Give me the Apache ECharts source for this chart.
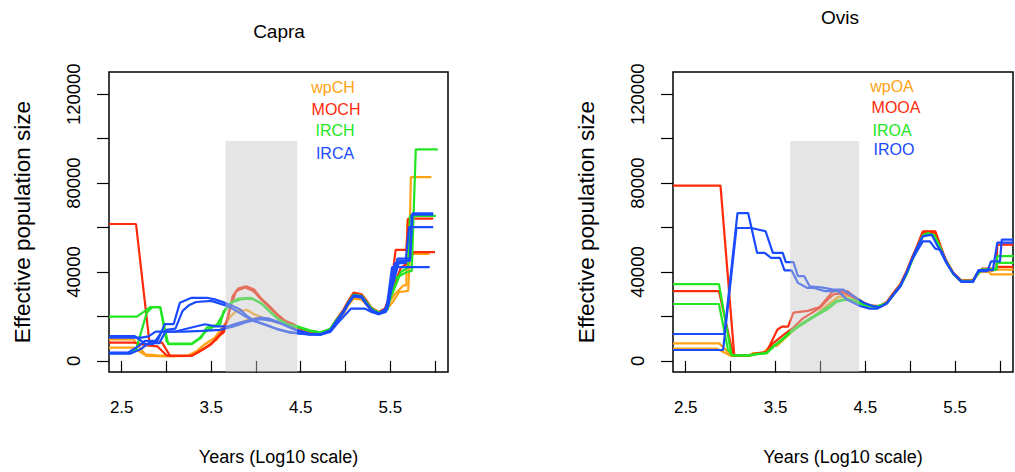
<!DOCTYPE html>
<html>
<head>
<meta charset="utf-8">
<script src="https://cdn.jsdelivr.net/npm/echarts@6/dist/echarts.min.js"></script>
<style>
html,body{margin:0;padding:0;background:#fff;}
#chart{width:1015px;height:472px;}
</style>
</head>
<body>
<div id="chart"></div>
<script>
// ---------- tick values ----------
const xTicks = [2.5, 3.0, 3.5, 4.0, 4.5, 5.0, 5.5, 6.0];
const xTickLabels = [2.5, 3.5, 4.5, 5.5];
const yTicks = [0, 20000, 40000, 60000, 80000, 100000, 120000];
const yTickLabels = [0, 40000, 80000, 120000];

// ---------- shaded period [x0, x1, y0, y1] ----------
const capraShade = [3.66, 4.46, -5000, 99000];
const ovisShade = [3.663, 4.432, -5000, 99000];

// ---------- Capra ----------
const capraOrangeA = [[2.358,9700],[2.63,9700],[2.76,3000],[2.9,2500],[3.1,2300],[3.24,2400],[3.34,4500],[3.43,7500],[3.54,10500],[3.65,16500],[3.72,20200],[3.78,22400],[3.9,22900],[3.98,21000],[4.12,18700],[4.3,16500],[4.47,15100],[4.6,13500],[4.72,12700],[4.83,14000],[4.9,18000],[4.98,22000],[5.03,25500],[5.09,28500],[5.18,28000],[5.24,25500],[5.29,23000],[5.37,21500],[5.44,23000],[5.5,27000],[5.55,30000],[5.65,34000],[5.68,34000],[5.69,63500],[5.72,63500],[5.73,82700],[5.96,82700]];
const capraOrangeB = [[2.358,6000],[2.63,6000],[2.78,2200],[3.0,2000],[3.26,2200],[3.36,4000],[3.45,6500],[3.56,9500],[3.66,15000],[3.78,16500],[3.92,18700],[4.05,19500],[4.2,18000],[4.35,16000],[4.47,14600],[4.6,13000],[4.72,12200],[4.83,13500],[4.9,17500],[4.98,21500],[5.03,25000],[5.09,28000],[5.18,27500],[5.24,25000],[5.29,22500],[5.37,21500],[5.44,22500],[5.52,26000],[5.6,31000],[5.7,31500],[5.72,48150],[5.94,48150]];
const capraRedA = [[2.358,61600],[2.66,61600],[2.81,8250],[2.95,8250],[3.04,2240],[3.28,2240],[3.38,4500],[3.48,7000],[3.58,11000],[3.64,12800],[3.69,20200],[3.74,29100],[3.8,32500],[3.89,33600],[3.98,32100],[4.05,28400],[4.15,24700],[4.24,20900],[4.33,17900],[4.42,16500],[4.5,14500],[4.6,13500],[4.72,12700],[4.83,14200],[4.9,18700],[4.98,23200],[5.03,26900],[5.09,30700],[5.18,30000],[5.24,26900],[5.29,23900],[5.37,22000],[5.44,23500],[5.5,30000],[5.56,50000],[5.68,50000],[5.7,64000],[5.98,64000]];
const capraRedB = [[2.358,8250],[2.64,8250],[2.78,7000],[2.9,6500],[3.0,2500],[3.05,2240],[3.28,2240],[3.4,5000],[3.5,7500],[3.6,12000],[3.66,16000],[3.72,25000],[3.78,31500],[3.88,33000],[3.97,31500],[4.05,28000],[4.15,24000],[4.24,20500],[4.33,17500],[4.45,15500],[4.6,13300],[4.72,12500],[4.83,14000],[4.9,18500],[4.98,23000],[5.03,26500],[5.09,30200],[5.18,29500],[5.24,26500],[5.29,23500],[5.37,21800],[5.44,23000],[5.52,32000],[5.62,42000],[5.7,44000],[5.76,48900],[6.0,48900]];
const capraGreenA = [[2.358,19900],[2.67,19900],[2.82,24200],[2.93,24200],[3.02,7500],[3.28,7500],[3.39,10500],[3.45,15000],[3.6,16500],[3.64,22400],[3.72,26200],[3.8,28000],[3.94,28400],[4.05,26200],[4.15,22400],[4.25,18700],[4.35,16500],[4.45,15700],[4.6,13800],[4.72,12800],[4.83,14500],[4.9,18500],[4.98,22500],[5.03,26000],[5.09,29500],[5.18,29000],[5.24,26000],[5.29,23500],[5.37,21500],[5.47,23000],[5.55,37000],[5.68,39900],[5.74,40500],[5.785,95200],[6.03,95200]];
const capraGreenB = [[2.358,3500],[2.6,3500],[2.66,5000],[2.78,21700],[2.84,24200],[2.93,24200],[3.0,9000],[3.02,7800],[3.28,7800],[3.36,10000],[3.46,14000],[3.56,16000],[3.66,23000],[3.74,26500],[3.84,27800],[3.96,28000],[4.06,25800],[4.16,22000],[4.26,18500],[4.36,16300],[4.47,15200],[4.6,13500],[4.72,12600],[4.83,14300],[4.9,18300],[4.98,22300],[5.03,26200],[5.09,29800],[5.18,29300],[5.24,26200],[5.29,23600],[5.37,21800],[5.45,22800],[5.52,30000],[5.62,40000],[5.7,42000],[5.72,65300],[6.01,65300]];
const capraBlueA = [[2.358,3700],[2.57,3700],[2.7,7000],[2.76,9000],[2.9,9000],[2.98,16500],[3.08,16500],[3.15,26200],[3.28,28400],[3.45,28400],[3.54,27700],[3.63,26500],[3.72,25000],[3.82,23200],[3.9,20200],[3.98,17900],[4.1,16500],[4.24,14200],[4.38,12700],[4.5,12300],[4.6,12000],[4.72,12000],[4.83,13800],[4.9,18000],[4.98,22500],[5.03,26000],[5.09,29500],[5.18,29000],[5.24,25500],[5.29,23000],[5.37,21300],[5.44,22500],[5.5,30000],[5.58,46000],[5.72,46000],[5.75,66400],[5.98,66400]];
const capraBlueB = [[2.358,3300],[2.6,3300],[2.72,5500],[2.8,8000],[2.92,8000],[3.0,14000],[3.1,14500],[3.18,22500],[3.25,25000],[3.33,26500],[3.5,27000],[3.58,26000],[3.66,25000],[3.76,23000],[3.86,20500],[3.95,18500],[4.05,17000],[4.2,14800],[4.35,13200],[4.5,12300],[4.6,11800],[4.72,11800],[4.83,13500],[4.9,17500],[4.98,22000],[5.03,25500],[5.09,29000],[5.18,28500],[5.24,25000],[5.29,22800],[5.37,21000],[5.45,22000],[5.48,25000],[5.55,44000],[5.67,44000],[5.71,60200],[5.98,60200]];
const capraBlueC = [[2.358,11200],[2.64,11200],[2.77,7500],[2.85,7500],[2.95,13200],[3.1,13200],[3.28,15000],[3.43,16500],[3.55,15500],[3.68,15500],[3.8,17000],[3.95,18500],[4.05,19500],[4.15,19000],[4.25,17500],[4.35,15500],[4.47,13500],[4.6,12000],[4.72,11800],[4.83,13000],[4.9,16500],[4.98,20000],[5.06,23500],[5.22,23500],[5.29,22000],[5.37,21000],[5.46,24000],[5.52,42150],[5.94,42150]];
const capraBlueD = [[2.358,10500],[2.72,10500],[2.8,11000],[2.88,13200],[3.2,13200],[3.4,13500],[3.6,14000],[3.75,15500],[3.9,17500],[4.05,18800],[4.18,18000],[4.3,16500],[4.45,14000],[4.6,12300],[4.72,12000],[4.83,13600],[4.9,17800],[4.98,22300],[5.03,25800],[5.09,29300],[5.18,28800],[5.24,25300],[5.29,22900],[5.37,21200],[5.44,22400],[5.5,30000],[5.6,45000],[5.72,45000],[5.74,65800],[5.98,65800]];

// ---------- Ovis ----------
const ovisRedA = [[2.358,78900],[2.887,78900],[3.04,2560],[3.21,2600],[3.3,3500],[3.4,4000],[3.46,9000],[3.52,14000],[3.57,15400],[3.64,15400],[3.7,21700],[3.86,22500],[3.99,24200],[4.07,28000],[4.14,31400],[4.3,31400],[4.37,29100],[4.44,27000],[4.55,25000],[4.66,24700],[4.74,26500],[4.81,30500],[4.89,34500],[4.96,40500],[5.02,46500],[5.07,51000],[5.14,58300],[5.28,58300],[5.33,52500],[5.39,46000],[5.48,39500],[5.57,36000],[5.7,36000],[5.74,39000],[5.8,41500],[5.96,41500],[5.97,52300],[6.15,52300]];
const ovisRedB = [[2.358,31400],[2.87,31400],[3.03,2400],[3.2,2300],[3.3,3200],[3.4,3800],[3.46,7500],[3.52,9500],[3.6,12000],[3.7,15000],[3.8,19000],[3.9,21500],[4.0,24000],[4.08,27500],[4.15,30000],[4.28,30500],[4.37,28500],[4.45,26500],[4.55,24700],[4.66,24700],[4.74,26300],[4.81,30000],[4.89,34000],[4.96,40000],[5.02,46000],[5.07,50500],[5.14,57800],[5.28,57800],[5.33,52000],[5.39,45800],[5.48,39500],[5.57,36200],[5.7,36200],[5.74,39000],[5.8,41000],[5.96,41000],[5.97,42300],[6.15,42300]];
const ovisGreenA = [[2.358,34500],[2.87,34500],[3.01,2600],[3.2,2500],[3.3,3200],[3.4,3500],[3.48,6700],[3.56,9000],[3.66,12500],[3.76,15500],[3.86,18000],[3.96,20500],[4.07,23000],[4.18,26500],[4.28,27500],[4.4,26500],[4.5,24800],[4.62,24200],[4.74,25800],[4.81,29500],[4.89,33500],[4.96,39000],[5.02,45000],[5.07,49500],[5.14,56000],[5.2,57000],[5.27,56000],[5.33,51000],[5.39,45500],[5.48,39000],[5.57,35800],[5.7,35800],[5.74,38500],[5.8,41000],[5.96,41000],[5.97,47100],[6.15,47100]];
const ovisGreenB = [[2.358,25600],[2.87,25600],[2.97,5000],[3.02,2500],[3.2,2400],[3.3,3000],[3.4,3500],[3.48,6500],[3.56,9200],[3.66,13000],[3.76,16000],[3.86,18500],[3.96,21000],[4.07,24000],[4.18,27000],[4.3,28000],[4.4,27000],[4.5,25200],[4.62,24500],[4.74,26000],[4.81,29800],[4.89,33800],[4.96,39500],[5.02,45500],[5.07,50000],[5.14,56500],[5.2,57500],[5.27,56500],[5.33,51500],[5.39,45500],[5.48,39200],[5.57,36000],[5.7,36000],[5.74,38800],[5.8,41200],[5.96,41200],[5.97,44100],[6.15,44100]];
const ovisOrangeA = [[2.358,7900],[2.87,7900],[3.01,2400],[3.21,2300],[3.25,3450],[3.36,3450],[3.44,6700],[3.51,6700],[3.58,9700],[3.7,14200],[3.81,17200],[3.96,20900],[4.07,24700],[4.18,28400],[4.25,29100],[4.33,29100],[4.42,27700],[4.55,24700],[4.66,24500],[4.74,26200],[4.81,29900],[4.89,33600],[4.96,39600],[5.02,45600],[5.07,50100],[5.14,57600],[5.28,57600],[5.33,51600],[5.39,45600],[5.48,39600],[5.57,35800],[5.7,35800],[5.74,38900],[5.8,40500],[5.92,40500],[5.95,41100],[6.15,41100]];
const ovisOrangeB = [[2.358,5500],[2.85,5500],[3.0,2300],[3.2,2300],[3.26,3300],[3.38,3500],[3.45,6500],[3.52,7000],[3.6,10000],[3.72,14500],[3.84,17800],[3.98,21500],[4.08,25200],[4.2,28800],[4.3,29500],[4.4,28500],[4.5,25800],[4.6,24200],[4.7,24800],[4.78,28000],[4.86,32500],[4.93,37000],[5.0,43500],[5.05,48500],[5.12,55500],[5.17,58300],[5.27,58300],[5.32,53500],[5.38,47000],[5.46,40500],[5.54,36500],[5.66,35500],[5.72,37500],[5.78,40000],[5.88,40000],[5.9,38900],[6.15,38900]];
const ovisBlueA = [[2.358,12100],[2.93,12100],[3.076,66500],[3.195,66500],[3.295,48600],[3.38,48600],[3.45,46400],[3.55,46400],[3.6,40700],[3.68,40700],[3.75,35100],[3.85,32900],[3.92,32900],[4.05,31400],[4.2,31400],[4.29,27700],[4.44,24700],[4.55,23500],[4.63,23500],[4.74,25800],[4.81,29500],[4.89,33500],[4.96,39500],[5.02,45500],[5.07,49000],[5.14,53800],[5.22,53800],[5.28,50500],[5.33,50000],[5.39,45000],[5.48,39200],[5.57,35500],[5.7,35500],[5.76,40400],[5.86,40400],[5.9,44800],[6.0,44800],[6.02,54600],[6.15,54600]];
const ovisBlueB = [[2.358,4900],[2.916,4900],[3.065,59800],[3.23,59800],[3.39,58300],[3.47,48600],[3.58,48600],[3.615,44400],[3.7,44400],[3.75,38100],[3.82,38100],[3.88,33600],[4.03,33000],[4.14,32100],[4.25,32100],[4.37,29100],[4.48,26200],[4.58,24700],[4.66,24200],[4.74,26000],[4.81,29800],[4.89,33800],[4.96,39800],[5.02,45800],[5.07,50500],[5.14,56000],[5.24,56800],[5.3,52000],[5.36,48500],[5.42,43000],[5.48,39500],[5.57,35800],[5.7,35800],[5.76,40800],[5.92,40800],[5.97,53200],[6.15,53200]];

// ---------- labels ----------
const capraLegend = ['wpCH', 'MOCH', 'IRCH', 'IRCA'];
const ovisLegend = ['wpOA', 'MOOA', 'IROA', 'IROO'];
const panelTitles = ['Capra', 'Ovis'];

const COL = {orange: '#FFA214', red: '#FF2A0A', green: '#22E622', blue: '#1A4BFF'};
const FONT = '"Liberation Sans", Arial, Helvetica, sans-serif';

const capraLines = [
  ['wpCH', COL.orange, capraOrangeA], ['wpCH', COL.orange, capraOrangeB],
  ['MOCH', COL.red, capraRedA], ['MOCH', COL.red, capraRedB],
  ['IRCH', COL.green, capraGreenA], ['IRCH', COL.green, capraGreenB],
  ['IRCA', COL.blue, capraBlueA], ['IRCA', COL.blue, capraBlueB],
  ['IRCA', COL.blue, capraBlueC], ['IRCA', COL.blue, capraBlueD]
];
const ovisLines = [
  ['wpOA', COL.orange, ovisOrangeA], ['wpOA', COL.orange, ovisOrangeB],
  ['MOOA', COL.red, ovisRedA], ['MOOA', COL.red, ovisRedB],
  ['IROA', COL.green, ovisGreenA], ['IROA', COL.green, ovisGreenB],
  ['IROO', COL.blue, ovisBlueA], ['IROO', COL.blue, ovisBlueB]
];

const chart = echarts.init(document.getElementById('chart'), null, {renderer: 'svg'});

function xAxisOpt(idx) {
  return {
    type: 'value', gridIndex: idx, min: 2.358, max: 6.145,
    name: 'Years (Log10 scale)', nameLocation: 'middle', nameGap: 76,
    nameTextStyle: {fontFamily: FONT, fontSize: 18, color: '#000'},
    axisLine: {show: false},
    axisTick: {show: true, inside: false, length: 12, customValues: xTicks, lineStyle: {color: '#000', width: 1.2}},
    axisLabel: {show: true, customValues: xTickLabels, margin: 27, fontFamily: FONT, fontSize: 17, color: '#000',
      formatter: v => v.toFixed(1)},
    splitLine: {show: false}
  };
}
function yAxisOpt(idx) {
  return {
    type: 'value', gridIndex: idx, min: -5000, max: 130000,
    name: 'Effective population size', nameLocation: 'middle', nameGap: 75, nameRotate: 90,
    nameTextStyle: {fontFamily: FONT, fontSize: 22.5, color: '#000'},
    axisLine: {show: false},
    axisTick: {show: true, inside: false, length: 12, customValues: yTicks, lineStyle: {color: '#000', width: 1.2}},
    axisLabel: {show: true, customValues: yTickLabels, rotate: 90, margin: 26, fontFamily: FONT, fontSize: 18.5, color: '#000',
      formatter: v => String(v)},
    splitLine: {show: false}
  };
}

function lineSeries(lines, idx) {
  return lines.map(([name, color, pts]) => ({
    type: 'line', name: name, xAxisIndex: idx, yAxisIndex: idx,
    data: pts, showSymbol: false, symbol: 'none', z: 2, clip: true,
    lineStyle: {color: color, width: 2.2}, itemStyle: {color: color},
    silent: true, animation: false
  }));
}
function shadeSeries(shade, idx) {
  return {
    type: 'custom', xAxisIndex: idx, yAxisIndex: idx, z: 10, clip: true, silent: true,
    data: [shade], encode: {x: [0, 1], y: [2, 3]},
    renderItem: function (params, api) {
      const p0 = api.coord([api.value(0), api.value(3)]);
      const p1 = api.coord([api.value(1), api.value(2)]);
      return {type: 'rect', shape: {x: p0[0], y: p0[1], width: p1[0] - p0[0], height: p1[1] - p0[1]},
        style: {fill: 'rgba(197,197,197,0.45)'}};
    }
  };
}

function legendTexts(labels, cx, cys) {
  const cols = [COL.orange, COL.red, COL.green, COL.blue];
  return labels.map((t, i) => ({
    type: 'text', x: cx[i], y: cys[i], z: 20,
    style: {text: t, fill: cols[i], font: '16px ' + FONT, textAlign: 'center', textVerticalAlign: 'middle'}
  }));
}

const option = {
  backgroundColor: '#fff',
  animation: false,
  grid: [
    {left: 109, top: 72, width: 339, height: 300, show: true, borderColor: '#000', borderWidth: 1.5, backgroundColor: 'transparent'},
    {left: 673, top: 72, width: 340, height: 300, show: true, borderColor: '#000', borderWidth: 1.5, backgroundColor: 'transparent'}
  ],
  xAxis: [xAxisOpt(0), xAxisOpt(1)],
  yAxis: [yAxisOpt(0), yAxisOpt(1)],
  series: [].concat(lineSeries(capraLines, 0), [shadeSeries(capraShade, 0)], lineSeries(ovisLines, 1), [shadeSeries(ovisShade, 1)]),
  graphic: [].concat(
    [{type: 'text', x: 279, y: 31, style: {text: panelTitles[0], fill: '#000', font: '19px ' + FONT, textAlign: 'center', textVerticalAlign: 'middle'}},
     {type: 'text', x: 840, y: 17, style: {text: panelTitles[1], fill: '#000', font: '19px ' + FONT, textAlign: 'center', textVerticalAlign: 'middle'}}],
    legendTexts(capraLegend, [333, 336, 335, 335], [87, 109.5, 130, 153.5]),
    legendTexts(ovisLegend, [892, 896, 892, 894], [86.5, 107.5, 130, 149.5])
  )
};
chart.setOption(option);
</script>
</body>
</html>
